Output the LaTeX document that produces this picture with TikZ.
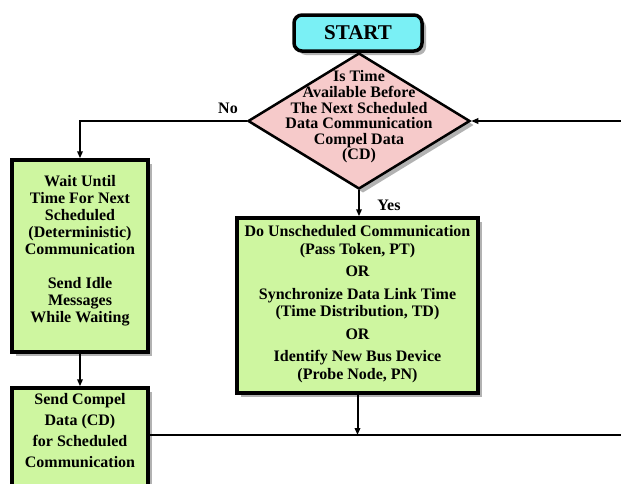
\documentclass[tikz,border=0pt]{standalone}
\usepackage{fontspec}
\setmainfont{Liberation Serif}
\usetikzlibrary{shapes.geometric,shadows,arrows.meta}

\definecolor{boxgreen}{RGB}{206,246,160}
\definecolor{decpink}{RGB}{246,202,202}
\definecolor{startcyan}{RGB}{122,240,245}

\begin{document}
\begin{tikzpicture}[x=1pt,y=-1pt,
  softshadow/.style={drop shadow={shadow xshift=4pt,shadow yshift=-4pt,fill=black,opacity=0.3}},
  txt/.style={font=\fontsize{16}{17}\selectfont\bfseries,align=center,text=black,inner sep=0pt},
  procbox/.style={rectangle,draw=black,line width=3.5pt,fill=boxgreen,softshadow,inner sep=0pt},
  decision/.style={diamond,draw=black,line width=2.5pt,fill=decpink,softshadow,
    minimum width=222pt,minimum height=136pt,inner sep=0pt},
  startbox/.style={rectangle,rounded corners=8pt,draw=black,line width=3.5pt,fill=startcyan,
    softshadow,minimum width=128pt,minimum height=36pt,inner sep=0pt,
    font=\fontsize{21}{24}\selectfont\bfseries},
  conn/.style={draw=black,line width=2pt,-{Triangle[length=7pt,width=5.5pt]}},
  plainline/.style={draw=black,line width=2pt},
  lbl/.style={font=\fontsize{16}{17}\selectfont\bfseries,text=black,inner sep=0pt}
]
\useasboundingbox (0,0) rectangle (621,483);
\clip (0,0) rectangle (621,483);
\fill[white] (0,0) rectangle (621,483);

% decision and start
\node[decision] (dec) at (359,121) {};
\node[txt,font=\fontsize{16}{15.6}\selectfont\bfseries] (dectext) at (359,117)
  {Is Time\\Available Before\\The Next Scheduled\\Data Communication\\Compel Data\\(CD)};
\node[startbox] (start) at (358,33) {START};

% process boxes
\node[procbox,minimum width=136pt,minimum height=192pt] (box1) at (80,256) {};
\node[txt] (box1text) at ([yshift=5pt]box1.center)
  {Wait Until\\Time For Next\\Scheduled\\(Deterministic)\\Communication\\[17pt]Send Idle\\Messages\\While Waiting};

\node[procbox,minimum width=241pt,minimum height=175pt] (box2) at (357.5,305.5) {};
\node[txt,font=\fontsize{16}{17.5}\selectfont\bfseries] (box2text) at ([yshift=1.5pt]box2.center)
  {Do Unscheduled Communication\\(Pass Token, PT)\\[5pt]OR\\[5pt]Synchronize Data Link Time\\(Time Distribution, TD)\\[5pt]OR\\[5pt]Identify New Bus Device\\(Probe Node, PN)};

\node[procbox,minimum width=136pt,minimum height=130pt] (box3) at (80,453) {};
\node[txt,font=\fontsize{16}{21}\selectfont\bfseries] (box3text) at (80,431)
  {Send Compel\\Data (CD)\\for Scheduled\\Communication};

% connectors
\coordinate (loopin) at (621,121);
\coordinate (busend) at (621,435);
\draw[conn] (dec.west) -| (box1.north);
\draw[conn] (dec.south) -- (dec.south |- box2.north);
\draw[conn] (loopin) -- (dec.east);
\draw[conn] (box1.south) -- (box3.north);
\draw[plainline] (box3.east |- busend) -- (busend);
\draw[conn] (box2.south) -- (box2.south |- busend);

% branch labels
\node[lbl] (nolabel) at (228,108) {No};
\node[lbl] (yeslabel) at (389,205) {Yes};
\end{tikzpicture}
\end{document}
